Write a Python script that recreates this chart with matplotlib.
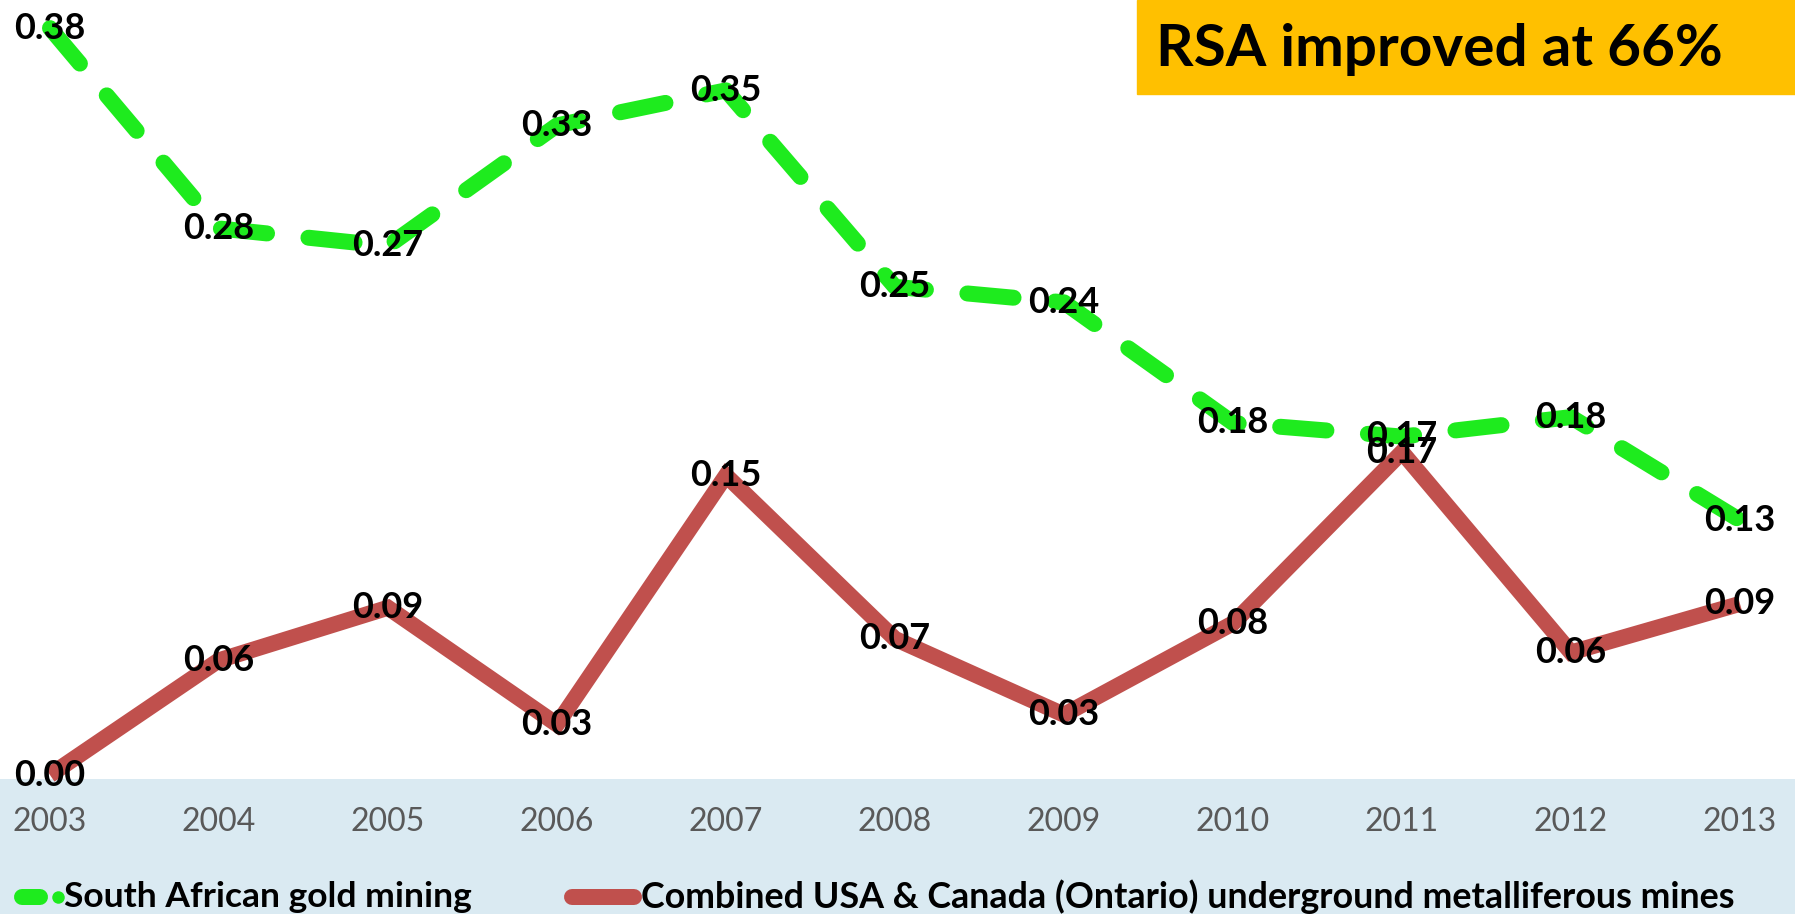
import matplotlib
matplotlib.use("Agg")
import matplotlib.pyplot as plt
from matplotlib.patches import Rectangle

# ---------------- data ----------------
years = [2003, 2004, 2005, 2006, 2007, 2008, 2009, 2010, 2011, 2012, 2013]
rsa_gold = [0.384, 0.281, 0.272, 0.334, 0.352, 0.251, 0.243, 0.181, 0.174, 0.184, 0.131]
usa_canada = [0.000, 0.059, 0.086, 0.026, 0.154, 0.070, 0.031, 0.078, 0.166, 0.063, 0.088]
series_names = ["South African gold mining",
                "Combined USA & Canada (Ontario) underground metalliferous mines"]
title_text = "RSA improved at 66%"

# ---------------- layout ----------------
W, H, DPI = 1795, 914, 100
FONT = ["Lato", "DejaVu Sans"]
GREEN = "#1EEB1E"
RED = "#C0504D"
BAND = "#DAEAF2"

fig = plt.figure(figsize=(W / DPI, H / DPI), dpi=DPI)
ax = fig.add_axes([0, 0, 1, 1])

x0_px, px_per_year = 50, 169.0
y0_px, px_per_unit = 775, 1945.0
ax.set_xlim(years[0] - x0_px / px_per_year, years[0] + (W - x0_px) / px_per_year)
ax.set_ylim(-(H - y0_px) / px_per_unit, y0_px / px_per_unit)
ax.axis("off")


def ypx(p):  # pixel-from-top -> data y
    return (y0_px - p) / px_per_unit


def xpx(p):
    return years[0] + (p - x0_px) / px_per_year


# light blue band at the bottom
ax.axhspan(ax.get_ylim()[0], ypx(779), color=BAND, zorder=0, lw=0)

# lines
lw_pt = 16 * 72 / DPI
ax.plot(years, usa_canada, color=RED, lw=16 * 72 / DPI, solid_joinstyle="miter",
        solid_capstyle="butt", zorder=2)
ax.plot(years, rsa_gold, color=GREEN, lw=lw_pt, linestyle=(0, (2.9, 2.6)),
        dash_capstyle="round", dash_joinstyle="round", zorder=3)

# data labels
LBL = 26
for x, v in zip(years, rsa_gold):
    ax.text(x, v, f"{v:.2f}", ha="center", va="center", fontsize=LBL,
            fontweight="bold", family=FONT, color="black", zorder=5)
for x, v in zip(years, usa_canada):
    ax.text(x, v, f"{v:.2f}", ha="center", va="center", fontsize=LBL,
            fontweight="bold", family=FONT, color="black", zorder=5)

# year labels
for x in years:
    ax.text(x, ypx(822), str(x), ha="center", va="center", fontsize=23,
            family=FONT, color="#595959", zorder=5)

# legend
ly = ypx(897)
ax.plot([xpx(22), xpx(40)], [ly, ly], color=GREEN, lw=lw_pt,
        solid_capstyle="round", zorder=4, clip_on=False)
ax.plot([xpx(58)], [ly], "o", color=GREEN, ms=9, mec="none", zorder=4)
ax.text(xpx(64), ly, series_names[0], ha="left", va="center", fontsize=25.5,
        fontweight="bold", family=FONT, color="black", zorder=5)
ax.plot([xpx(572), xpx(634)], [ly, ly], color=RED, lw=16 * 72 / DPI,
        solid_capstyle="round", zorder=4)
ax.text(xpx(641), ly, series_names[1], ha="left", va="center", fontsize=25.8,
        fontweight="bold", family=FONT, color="black", zorder=5)

# title box
fig.patches.append(Rectangle((1137 / W, 1 - 94 / H), 1 - 1137 / W, 94 / H,
                             transform=fig.transFigure, color="#FFC000", zorder=1))
fig.text(1156 / W, 1 - 50 / H, title_text, ha="left", va="center", fontsize=42,
         fontweight="bold", family=FONT, color="black")

fig.savefig("out.png", dpi=DPI)
